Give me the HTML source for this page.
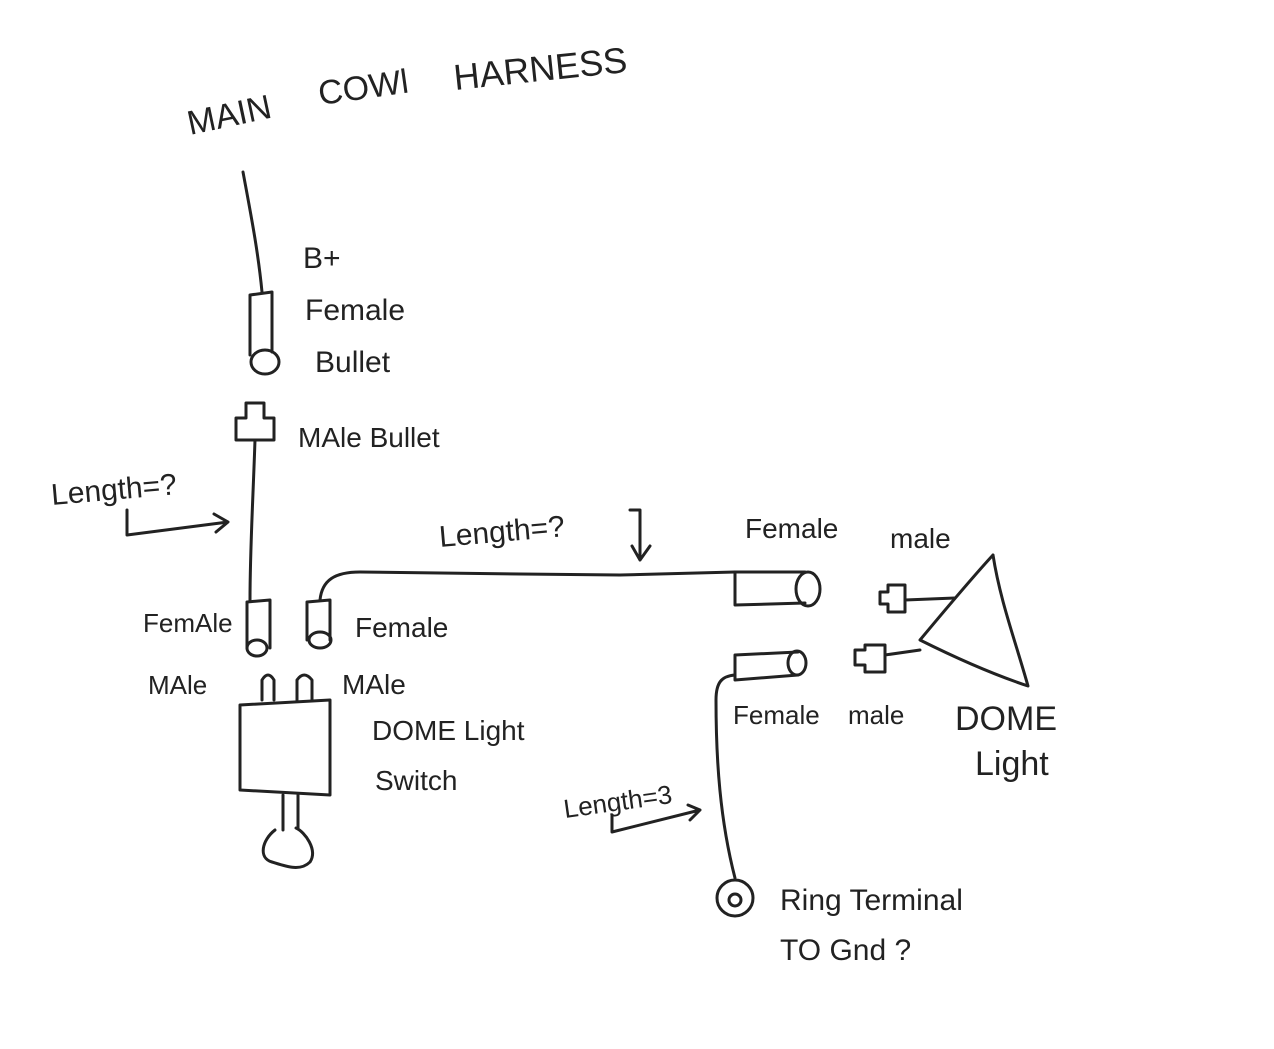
<!DOCTYPE html>
<html><head><meta charset="utf-8"><style>
html,body{margin:0;padding:0;background:#fff;}
svg{display:block;}
text{font-family:"Liberation Sans",sans-serif;fill:#222;}
</style></head><body>
<svg width="1274" height="1049" viewBox="0 0 1274 1049" xmlns="http://www.w3.org/2000/svg">
<rect width="1274" height="1049" fill="#fff"/>
<g stroke="#222" stroke-width="3" fill="none" stroke-linecap="round" stroke-linejoin="round">
<!-- main vertical wire -->
<path d="M243 172 C250 210 258 250 262 292"/>
<!-- female bullet top -->
<path d="M250 295 L250 355 M272 292 L272 352 M250 295 L272 292"/>
<ellipse cx="265" cy="362" rx="14" ry="12"/>
<!-- male bullet -->
<path d="M236 418 L236 440 L274 440 L274 418 L264 418 L264 403 L246 403 L246 418 Z"/>
<path d="M255 440 C253 500 250 550 250 600"/>
<!-- length arrow left -->
<path d="M127 510 L127 535 L228 522 M214 514 L228 522 L216 532"/>
<!-- left female -->
<path d="M247 602 L247 648 M270 600 L270 648 M247 602 L270 600"/>
<ellipse cx="257" cy="648" rx="10" ry="8"/>
<!-- right female -->
<path d="M307 602 L307 640 M330 600 L330 640 M307 602 L330 600"/>
<ellipse cx="320" cy="640" rx="11" ry="8"/>
<!-- long wire -->
<path d="M320 600 C322 580 335 572 360 572 L520 574 L620 575 L735 572"/>
<!-- length arrow mid -->
<path d="M630 510 L640 510 L640 560 M632 546 L640 560 L650 546"/>
<!-- female upper right -->
<path d="M735 572 L735 605 L805 603 M735 572 L805 572"/>
<ellipse cx="808" cy="589" rx="12" ry="17"/>
<!-- male small connectors -->
<path d="M880 592 L888 592 L888 585 L905 585 L905 612 L888 612 L888 604 L880 604 Z M905 600 L955 598"/>
<path d="M855 650 L865 650 L865 645 L885 645 L885 672 L865 672 L865 665 L855 665 Z M885 655 L920 650"/>
<!-- dome light triangle -->
<path d="M993 555 C970 580 945 610 920 640 C960 660 995 675 1028 686 C1015 640 1000 600 993 555"/>
<!-- female lower -->
<path d="M735 655 L735 680 L798 675 M735 655 L798 652"/>
<ellipse cx="797" cy="663" rx="9" ry="12"/>
<path d="M735 675 C722 676 716 682 716 700 C716 760 720 820 735 878"/>
<!-- ring terminal -->
<circle cx="735" cy="898" r="18"/>
<circle cx="735" cy="900" r="6"/>
<!-- length arrow lower -->
<path d="M612 815 L612 832 L700 810 M688 805 L700 810 L690 820"/>
<!-- switch -->
<path d="M262 700 L262 680 Q268 670 274 680 L274 700 M297 700 L297 680 Q304 670 312 680 L312 700"/>
<path d="M240 705 L330 700 L330 795 L240 790 Z"/>
<path d="M283 795 L283 830 M298 795 L298 828"/>
<path d="M275 830 C262 840 258 858 272 862 C285 866 300 872 310 862 C318 850 305 832 296 828"/>
</g>
<g font-size="30">
<text x="190" y="135" transform="rotate(-12 190 135)" font-size="34">MAIN</text>
<text x="320" y="105" transform="rotate(-8 320 105)" font-size="34">COWl</text>
<text x="455" y="90" transform="rotate(-6 455 90)" font-size="36">HARNESS</text>
<text x="303" y="268" font-size="30">B+</text>
<text x="305" y="320">Female</text>
<text x="315" y="372">Bullet</text>
<text x="298" y="447" font-size="28">MAle Bullet</text>
<text x="52" y="505" transform="rotate(-5 52 505)">Length=?</text>
<text x="440" y="547" transform="rotate(-5 440 547)">Length=?</text>
<text x="745" y="538" font-size="28">Female</text>
<text x="890" y="548" font-size="28">male</text>
<text x="143" y="632" font-size="26">FemAle</text>
<text x="355" y="637" font-size="28">Female</text>
<text x="148" y="694" font-size="26">MAle</text>
<text x="342" y="694" font-size="28">MAle</text>
<text x="372" y="740" font-size="28">DOME Light</text>
<text x="375" y="790" font-size="28">Switch</text>
<text x="733" y="724" font-size="26">Female</text>
<text x="848" y="724" font-size="26">male</text>
<text x="955" y="730" font-size="34">DOME</text>
<text x="975" y="775" font-size="34">Light</text>
<text x="565" y="818" font-size="26" transform="rotate(-8 565 818)">Length=3</text>
<text x="780" y="910" font-size="30">Ring Terminal</text>
<text x="780" y="960" font-size="30">TO Gnd ?</text>
</g>
</svg>
</body></html>
